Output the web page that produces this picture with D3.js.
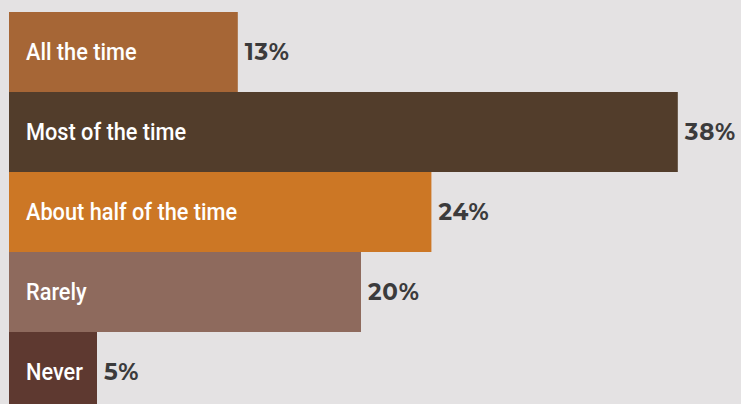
<!DOCTYPE html>
<html>
<head>
<meta charset="utf-8">
<script src="https://cdn.jsdelivr.net/npm/d3@7"></script>
<style>
  html, body { margin: 0; padding: 0; background: #e4e2e3; overflow: hidden; }
  svg { display: block; }
</style>
</head>
<body>
<svg id="chart" width="741" height="404"></svg>
<script>
// Survey answers and their shares (%)
const categories = ["All the time", "Most of the time", "About half of the time", "Rarely", "Never"];
const values = [13, 38, 24, 20, 5];
const valueLabels = ["13%", "38%", "24%", "20%", "5%"];
const colors = ["#a66636", "#523d2b", "#cc7725", "#8e6a5d", "#5e3930"];

const W = 741, H = 404;
const svg = d3.select("#chart");

svg.append("rect").attr("width", W).attr("height", H).attr("fill", "#e4e2e3");

const x = d3.scaleLinear().domain([0, 40]).range([9, 713]);
const y = d3.scaleBand().domain(categories).range([12, 412]).padding(0);

const rows = svg.selectAll("g.row")
  .data(categories.map((c, i) => ({ c, v: values[i], label: valueLabels[i], color: colors[i] })))
  .join("g")
  .attr("class", "row");

rows.append("rect")
  .attr("x", x(0))
  .attr("y", d => y(d.c))
  .attr("width", d => x(d.v) - x(0))
  .attr("height", y.bandwidth())
  .attr("fill", d => d.color);

// Category names inside the bars, narrowed to a condensed look
rows.append("text")
  .attr("transform", d => `translate(${x(0) + 17},${y(d.c) + y.bandwidth() / 2 + 8}) scale(0.945,1)`)
  .attr("fill", "#ffffff")
  .style("font-family", "Roboto, 'Noto Sans', sans-serif")
  .style("font-size", "23px")
  .style("font-weight", 500)
  .text(d => d.c);

// Percent labels right of each bar
rows.append("text")
  .attr("x", d => x(d.v) + 7)
  .attr("y", d => y(d.c) + y.bandwidth() / 2 + 8)
  .attr("fill", "#3b3b3c")
  .style("font-family", "Montserrat, Lato, 'Open Sans', sans-serif")
  .style("font-size", "23px")
  .style("font-weight", 700)
  .style("letter-spacing", "0.8px")
  .text(d => d.label);
</script>
</body>
</html>
